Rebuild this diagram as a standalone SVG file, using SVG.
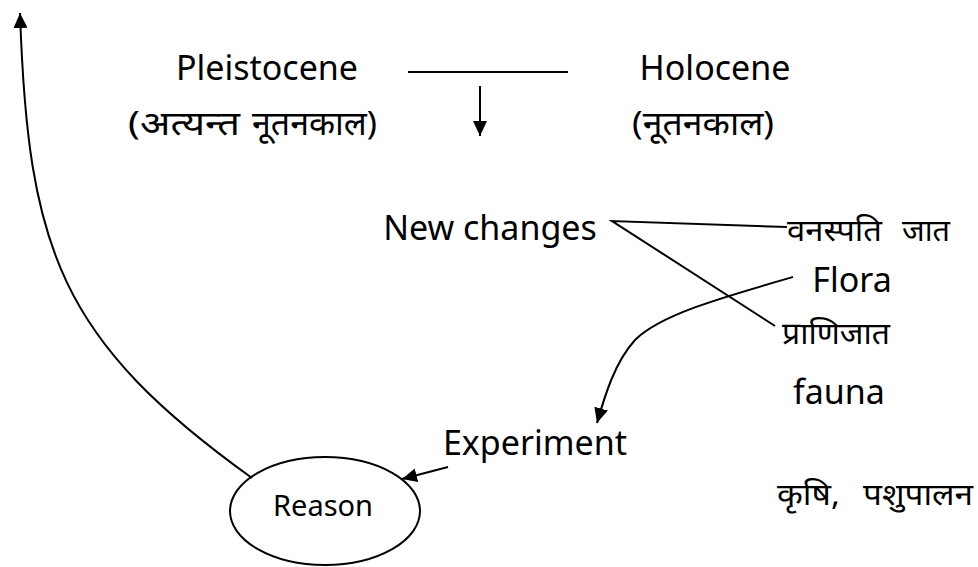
<svg xmlns="http://www.w3.org/2000/svg" width="978" height="567" viewBox="0 0 978 567">
<style>
.t{font-family:"Noto Sans","Open Sans",sans-serif;font-size:34px;fill:#000}
.d{font-family:"Noto Sans","Open Sans",sans-serif;font-size:30px;fill:#000}
.p{font-family:"Noto Sans","Open Sans",sans-serif;font-size:33px;fill:#000}
.s{font-family:"Noto Sans","Open Sans",sans-serif;font-size:29px;fill:#000}
.c{fill:none;stroke:#000;stroke-width:2}
</style>
<defs>
<marker id="ah" markerUnits="userSpaceOnUse" markerWidth="16" markerHeight="14" refX="15" refY="7" orient="auto">
<path d="M0,0 L15,7 L0,14 z" fill="#000"/>
</marker>
</defs>
<rect width="978" height="567" fill="#fff"/>
<g id="connectors">
<line class="c" x1="408" y1="72" x2="568" y2="72"/>
<line class="c" x1="480" y1="86" x2="480" y2="136" marker-end="url(#ah)"/>
<path class="c" d="M787,227 L612,221 L775,326"/>
<path class="c" d="M793,277 C720,298 660,315 635,340 C615,362 605,395 597,423" marker-end="url(#ah)"/>
<line class="c" x1="448" y1="467" x2="402" y2="479" marker-end="url(#ah)"/>
<path class="c" d="M252,478 C60,340 28,250 20,13" marker-end="url(#ah)"/>
</g>
<g id="pleistocene">
<text class="t" x="267" y="80" text-anchor="middle">Pleistocene</text>
<text class="p" y="135"><tspan x="128" textLength="112" lengthAdjust="spacingAndGlyphs">(अत्यन्त</tspan></text>
<text class="p" y="135"><tspan x="252" textLength="125" lengthAdjust="spacingAndGlyphs">नूतनकाल)</tspan></text>
</g>
<g id="holocene">
<text class="t" x="715" y="80" text-anchor="middle">Holocene</text>
<text class="p" x="632" y="135" textLength="142" lengthAdjust="spacingAndGlyphs">(नूतनकाल)</text>
</g>
<g id="new-changes">
<text class="t" x="490" y="240" text-anchor="middle">New changes</text>
</g>
<g id="vanaspati">
<text class="d" x="787" y="241" textLength="95" lengthAdjust="spacingAndGlyphs">वनस्पति</text>
<text class="d" x="902" y="241" textLength="48" lengthAdjust="spacingAndGlyphs">जात</text>
</g>
<g id="flora">
<text class="t" x="852" y="292" text-anchor="middle">Flora</text>
</g>
<g id="pranijat">
<text class="d" x="782" y="344" textLength="108" lengthAdjust="spacingAndGlyphs">प्राणिजात</text>
</g>
<g id="fauna">
<text class="t" x="839" y="404" text-anchor="middle">fauna</text>
</g>
<g id="experiment">
<text class="t" x="535" y="455" text-anchor="middle">Experiment</text>
</g>
<g id="reason">
<ellipse class="c" cx="325" cy="511" rx="95" ry="54"/>
<text class="s" x="323" y="516" text-anchor="middle">Reason</text>
</g>
<g id="krishi">
<text class="d" x="777" y="505" textLength="63" lengthAdjust="spacingAndGlyphs">कृषि,</text>
<text class="d" x="863" y="505" textLength="110" lengthAdjust="spacingAndGlyphs">पशुपालन</text>
</g>
</svg>
